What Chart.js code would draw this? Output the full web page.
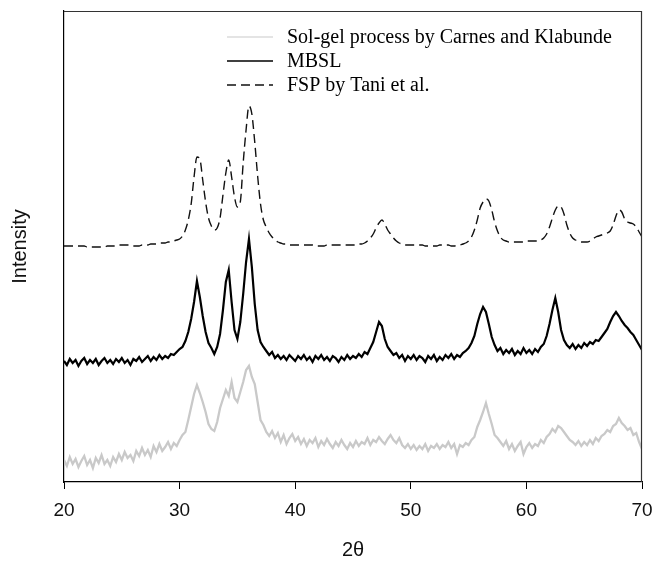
<!DOCTYPE html>
<html><head><meta charset="utf-8">
<script src="https://cdn.jsdelivr.net/npm/chart.js@4.4.1/dist/chart.umd.min.js"></script>
<style>html,body{margin:0;padding:0;background:#fff}</style>
</head><body>
<canvas id="c" width="655" height="562"></canvas>
<script>
const twoTheta = [
20,20.25,20.5,20.75,21,21.25,21.5,21.75,22,22.25,22.5,22.75,23,23.25,23.5,23.75,24,24.25,24.5,24.75,
25,25.25,25.5,25.75,26,26.25,26.5,26.75,27,27.25,27.5,27.75,28,28.25,28.5,28.75,29,29.25,29.5,29.75,
30,30.25,30.5,30.75,31,31.25,31.5,31.75,32,32.25,32.5,32.75,33,33.25,33.5,33.75,34,34.25,34.5,34.75,
35,35.25,35.5,35.75,36,36.25,36.5,36.75,37,37.25,37.5,37.75,38,38.25,38.5,38.75,39,39.25,39.5,39.75,
40,40.25,40.5,40.75,41,41.25,41.5,41.75,42,42.25,42.5,42.75,43,43.25,43.5,43.75,44,44.25,44.5,44.75,
45,45.25,45.5,45.75,46,46.25,46.5,46.75,47,47.25,47.5,47.75,48,48.25,48.5,48.75,49,49.25,49.5,49.75,
50,50.25,50.5,50.75,51,51.25,51.5,51.75,52,52.25,52.5,52.75,53,53.25,53.5,53.75,54,54.25,54.5,54.75,
55,55.25,55.5,55.75,56,56.25,56.5,56.75,57,57.25,57.5,57.75,58,58.25,58.5,58.75,59,59.25,59.5,59.75,
60,60.25,60.5,60.75,61,61.25,61.5,61.75,62,62.25,62.5,62.75,63,63.25,63.5,63.75,64,64.25,64.5,64.75,
65,65.25,65.5,65.75,66,66.25,66.5,66.75,67,67.25,67.5,67.75,68,68.25,68.5,68.75,69,69.25,69.5,69.75,
70];

const solGel = [
22,16,25,18, 23,15,21,26, 17,22,14,24, 19,27,18,22, 16,25,20,28,
22,30,24,27, 21,31,26,34, 27,32,25,36, 30,38,31,35, 40,33,39,36,
42,47,50,62, 75,88,97,89, 80,70,58,53, 51,60,74,83, 92,86,100,84,
80,90,100,112, 116,105,98,80, 62,57,50,46, 51,44,49,40, 47,38,44,48,
41,45,38,43, 36,42,39,44, 35,41,37,43, 38,34,40,36, 42,37,33,39,
35,41,36,40, 38,44,37,42, 40,45,41,38, 43,47,42,39, 44,37,34,38,
33,37,32,36, 33,38,31,36, 34,38,33,37, 35,40,34,38, 28,37,35,39,
37,42,45,55, 62,70,79,68, 58,47,44,40, 36,41,33,38, 31,36,40,28,
35,39,34,38, 36,42,39,45, 48,53,50,56, 54,50,46,42, 40,37,41,36,
40,37,42,38, 44,41,46,48, 52,50,56,58, 64,59,56,52, 54,47,49,40,
33];

const mbsl = [
121,117,123,119, 122,116,121,124, 118,122,119,123, 117,121,124,119, 122,118,123,120,
124,119,122,117, 123,121,125,120, 123,126,121,125, 122,127,123,126, 124,128,127,130,
133,135,141,150, 163,180,201,185, 166,150,139,134, 128,135,148,172, 200,212,180,152,
143,160,188,220, 243,215,178,152, 140,135,131,127, 130,124,127,123, 126,122,127,124,
121,126,123,127, 122,125,120,126, 123,127,122,125, 121,126,124,120, 125,122,127,123,
126,124,128,125, 130,128,134,140, 150,160,156,143, 135,131,127,129, 124,127,121,126,
123,127,122,126, 124,120,126,123, 127,121,125,122, 127,124,128,123, 127,125,129,131,
134,139,146,158, 168,175,170,158, 145,137,131,134, 128,132,129,133, 127,131,128,134,
129,132,128,133, 130,135,138,146, 158,172,184,170, 152,142,137,134, 138,133,137,134,
139,136,140,138, 142,141,145,149, 153,160,166,170, 166,161,157,154, 150,147,142,137,
132];

const fsp = [
236,236,236,236, 236,236,236,236, 235,235,235,235, 235,235,235,236, 236,236,236,237,
237,237,237,237, 236,236,236,237, 237,237,238,238, 238,239,239,239, 240,240,241,242,
243,246,252,262, 278,305,325,323, 302,280,264,256, 252,254,264,287, 309,322,305,285,
275,280,319,352, 376,368,340,306, 278,262,255,249, 245,242,240,239, 238,238,237,237,
237,237,237,237, 237,237,237,236, 236,236,236,237, 237,237,237,237, 237,237,237,237,
237,237,238,238, 239,241,244,248, 254,259,262,258, 252,248,244,241, 239,238,237,237,
237,237,237,237, 237,236,236,236, 236,236,237,237, 237,237,236,236, 237,237,238,239,
241,245,252,262, 274,280,283,281, 272,260,251,245, 242,241,240,240, 240,240,240,240,
241,241,241,241, 241,242,244,248, 255,264,272,276, 275,268,257,249, 244,242,241,240,
240,240,241,243, 245,246,247,248, 249,251,257,266, 272,270,263,260, 259,258,255,250,
245];

const xTicks = [20, 30, 40, 50, 60, 70];
const seriesLabels = ['Sol-gel process by Carnes and Klabunde', 'MBSL', 'FSP by Tani et al.'];
const xTitle = '2θ';
const yTitle = 'Intensity';

const pts = arr => twoTheta.map((x, i) => ({x: x, y: arr[i]}));

const framePlugin = {
  id: 'frame',
  afterDatasetsDraw(chart) {
    const {ctx, chartArea: a} = chart;
    ctx.save();
    ctx.strokeStyle = '#333';
    ctx.lineWidth = 1.2;
    ctx.beginPath();
    ctx.moveTo(a.left, a.top + 0.5);
    ctx.lineTo(a.right - 0.5, a.top + 0.5);
    ctx.lineTo(a.right - 0.5, a.bottom);
    ctx.stroke();
    // legend
    const legendWidths = [1.2, 1.6, 1.4];
    chart.data.datasets.forEach((ds, i) => {
      const y = a.top + 26 + i * 24;
      const x0 = a.left + 163;
      ctx.strokeStyle = ds.borderColor;
      ctx.lineWidth = legendWidths[i];
      ctx.setLineDash(ds.borderDash || []);
      ctx.beginPath();
      ctx.moveTo(x0, y);
      ctx.lineTo(x0 + 46, y);
      ctx.stroke();
      ctx.setLineDash([]);
      ctx.fillStyle = '#000';
      ctx.font = '20px "Liberation Serif", "Times New Roman", serif';
      ctx.textBaseline = 'middle';
      ctx.textAlign = 'left';
      ctx.fillText(ds.label, x0 + 60, y + 1);
    });
    ctx.restore();
  }
};

new Chart(document.getElementById('c'), {
  type: 'line',
  data: {
    datasets: [
      {label: seriesLabels[0], data: pts(solGel), borderColor: '#c9c9c9', borderWidth: 2.3, pointRadius: 0, tension: 0},
      {label: seriesLabels[1], data: pts(mbsl), borderColor: '#000000', borderWidth: 2.2, pointRadius: 0, tension: 0},
      {label: seriesLabels[2], data: pts(fsp), borderColor: '#111111', borderWidth: 1.4, borderDash: [9, 5], pointRadius: 0, cubicInterpolationMode: 'monotone'}
    ]
  },
  options: {
    responsive: false,
    animation: false,
    devicePixelRatio: 1,
    layout: {padding: {top: 11, right: 13, left: 0, bottom: 0}},
    plugins: {legend: {display: false}, tooltip: {enabled: false}},
    scales: {
      x: {
        type: 'linear', min: 20, max: 70,
        afterBuildTicks: s => { s.ticks = xTicks.map(v => ({value: v})); },
        afterFit: s => { s.height = 80; s.paddingLeft = 0; s.paddingRight = 0; },
        grid: {drawOnChartArea: false, drawTicks: true, tickLength: 7, color: '#000', lineWidth: 1},
        border: {display: true, color: '#000', width: 1.2},
        ticks: {color: '#111', padding: 10, maxRotation: 0, font: {family: '"Liberation Sans", Arial, sans-serif', size: 19}},
        title: {display: true, text: xTitle, color: '#111', padding: {top: 0, bottom: 0}, font: {family: '"Liberation Sans", Arial, sans-serif', size: 20}}
      },
      y: {
        min: 0, max: 471,
        afterFit: s => { s.width = 64; s.paddingTop = 0; s.paddingBottom = 0; },
        grid: {display: false},
        border: {display: true, color: '#000', width: 1.2},
        ticks: {display: false},
        title: {display: true, text: yTitle, color: '#111', padding: {top: 8, bottom: 0}, font: {family: '"Liberation Sans", Arial, sans-serif', size: 20}}
      }
    }
  },
  plugins: [framePlugin]
});
</script>
</body></html>
